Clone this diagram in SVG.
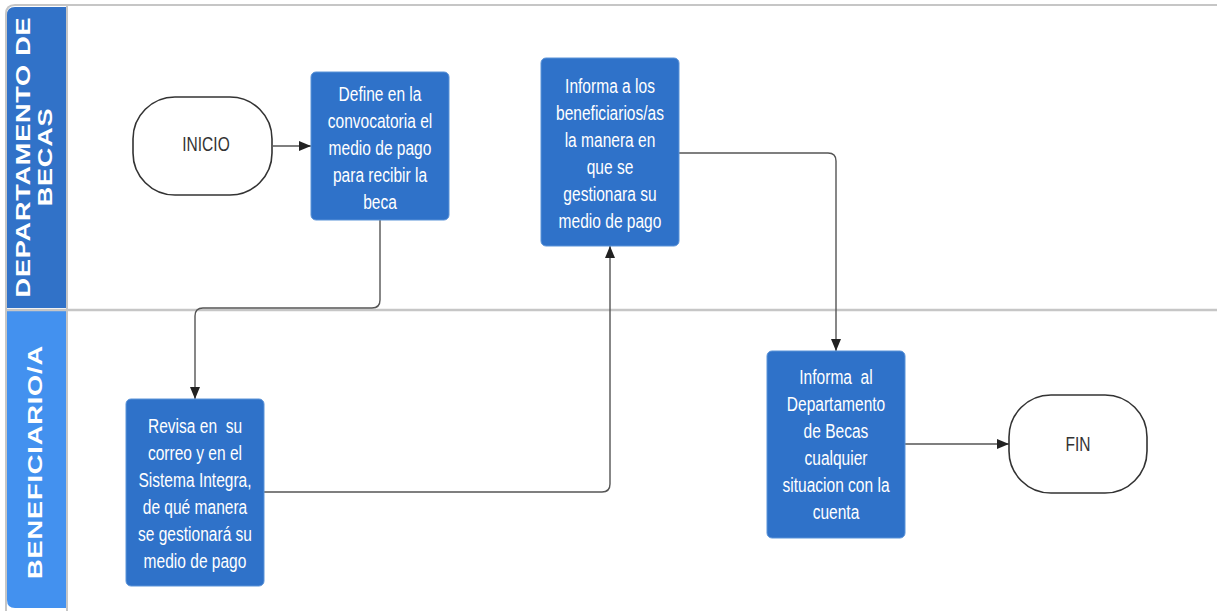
<svg xmlns="http://www.w3.org/2000/svg" width="1217" height="611" viewBox="0 0 1217 611">
  <style>
    .lane-frame { fill: none; stroke: #c6c6c6; stroke-width: 2; }
    .lane-title { fill: #ffffff; font-family: "Liberation Sans", Arial, sans-serif; font-weight: bold; font-size: 21px; letter-spacing: 0.6px; text-anchor: middle; }
    .task { fill: #2f72c9; stroke: #5b93d8; stroke-width: 1; }
    .task-text { fill: #ffffff; font-family: "Liberation Sans", Arial, sans-serif; font-size: 21px; text-anchor: middle; }
    .terminal { fill: #ffffff; stroke: #333333; stroke-width: 1.6; }
    .terminal-text { fill: #333333; font-family: "Liberation Sans", Arial, sans-serif; font-size: 21px; text-anchor: middle; }
    .flow { fill: none; stroke: #555555; stroke-width: 1.4; marker-end: url(#arrow); }
  </style>
  <defs>
    <marker id="arrow" viewBox="0 0 12 10" refX="12" refY="5" markerWidth="12" markerHeight="10" markerUnits="userSpaceOnUse" orient="auto">
      <path d="M0,0 L12,5 L0,10 Z" fill="#222222"/>
    </marker>
  </defs>

  <rect x="0" y="0" width="1217" height="611" fill="#ffffff"/>

  <!-- swimlane pool -->
  <g id="pool">
    <path d="M6,611 L6,14 Q6,5 15,5 L1217,5" class="lane-frame"/>
    <path d="M7,308 L7,15 Q7,7 15,7 L66,7 L66,308 Z" fill="#3172c8"/>
    <path d="M7,311 L66,311 L66,608 L15,608 Q7,608 7,600 Z" fill="#4391ef"/>
    <line x1="67" y1="6" x2="67" y2="611" stroke="#c6c6c6" stroke-width="2"/>
    <line x1="6" y1="310" x2="1217" y2="310" stroke="#c6c6c6" stroke-width="2.4"/>
  </g>

  <g id="lane-departamento">
    <text class="lane-title" transform="translate(30 157) rotate(-90) scale(1.29 1)">DEPARTAMENTO DE</text>
    <text class="lane-title" transform="translate(52 157) rotate(-90) scale(1.29 1)">BECAS</text>
  </g>
  <g id="lane-beneficiario">
    <text class="lane-title" transform="translate(42 462) rotate(-90) scale(1.3 1)">BENEFICIARIO/A</text>
  </g>

  <!-- connectors -->
  <g id="connectors">
    <path class="flow" d="M273,146 L311,146"/>
    <path class="flow" d="M380,220 L380,300 Q380,308 372,308 L203,308 Q195,308 195,316 L195,399"/>
    <path class="flow" d="M264,492 L602,492 Q610,492 610,484 L610,246"/>
    <path class="flow" d="M679,153 L828,153 Q836,153 836,161 L836,351"/>
    <path class="flow" d="M905,444 L1009,444"/>
  </g>

  <g id="inicio">
    <rect class="terminal" x="133" y="97" width="139" height="98" rx="42" ry="42"/>
    <text class="terminal-text" transform="translate(206 151) scale(0.74 1)">INICIO</text>
  </g>

  <g id="define">
    <rect class="task" x="311" y="72" width="138" height="148" rx="5"/>
    <g class="task-text" transform="translate(380 0) scale(0.74 1)">
      <text x="0" y="101">Define en la</text>
      <text x="0" y="128">convocatoria el</text>
      <text x="0" y="155">medio de pago</text>
      <text x="0" y="182">para recibir la</text>
      <text x="0" y="209">beca</text>
    </g>
  </g>

  <g id="informa-beneficiarios">
    <rect class="task" x="541" y="58" width="138" height="188" rx="5"/>
    <g class="task-text" transform="translate(610 0) scale(0.74 1)">
      <text x="0" y="93">Informa a los</text>
      <text x="0" y="120">beneficiarios/as</text>
      <text x="0" y="147">la manera en</text>
      <text x="0" y="174">que se</text>
      <text x="0" y="201">gestionara su</text>
      <text x="0" y="228">medio de pago</text>
    </g>
  </g>

  <g id="revisa">
    <rect class="task" x="126" y="399" width="138" height="187" rx="5"/>
    <g class="task-text" transform="translate(195 0) scale(0.74 1)">
      <text x="0" y="433" xml:space="preserve">Revisa en  su</text>
      <text x="0" y="460">correo y en el</text>
      <text x="0" y="487">Sistema Integra,</text>
      <text x="0" y="514">de qué manera</text>
      <text x="0" y="541">se gestionará su</text>
      <text x="0" y="568">medio de pago</text>
    </g>
  </g>

  <g id="informa-departamento">
    <rect class="task" x="767" y="351" width="138" height="187" rx="5"/>
    <g class="task-text" transform="translate(836 0) scale(0.74 1)">
      <text x="0" y="384" xml:space="preserve">Informa  al</text>
      <text x="0" y="411">Departamento</text>
      <text x="0" y="438">de Becas</text>
      <text x="0" y="465">cualquier</text>
      <text x="0" y="492">situacion con la</text>
      <text x="0" y="519">cuenta</text>
    </g>
  </g>

  <g id="fin">
    <rect class="terminal" x="1009" y="395" width="138" height="98" rx="42" ry="42"/>
    <text class="terminal-text" transform="translate(1078 451) scale(0.74 1)">FIN</text>
  </g>
</svg>
